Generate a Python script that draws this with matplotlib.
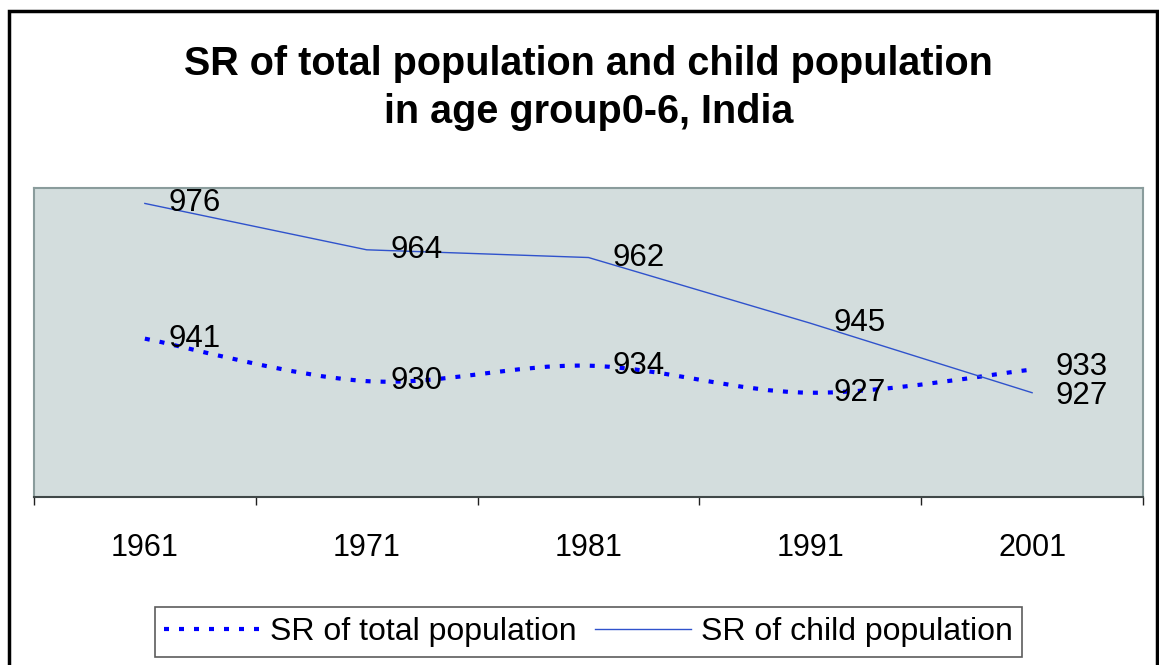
import numpy as np
import matplotlib.pyplot as plt
from matplotlib.path import Path
from matplotlib.patches import PathPatch, Rectangle
from matplotlib.lines import Line2D

plt.rcParams['font.family'] = ['Liberation Sans', 'DejaVu Sans']

years = ["1961", "1971", "1981", "1991", "2001"]
sr_total = [941, 930, 934, 927, 933]
sr_child = [976, 964, 962, 945, 927]

fig = plt.figure(figsize=(11.59, 6.65), dpi=100)
ax = fig.add_axes([0.0293, 0.2526, 0.9569, 0.4647])
ax.set_facecolor('#d3dddd')

x = np.arange(len(years))
dots = (0, (1.2, 2.4))


def smooth_path(xs, ys, t=0.5):
    # Catmull-Rom style bezier segments, like Excel's smoothed line
    pts = np.column_stack([xs, ys]).astype(float)
    verts = [pts[0]]
    codes = [Path.MOVETO]
    n = len(pts)
    for i in range(n - 1):
        p0 = pts[max(i - 1, 0)]
        p1 = pts[i]
        p2 = pts[i + 1]
        p3 = pts[min(i + 2, n - 1)]
        c1 = p1 + (p2 - p0) * t / 3
        c2 = p2 - (p3 - p1) * t / 3
        verts += [c1, c2, p2]
        codes += [Path.CURVE4] * 3
    return Path(verts, codes)


total_patch = PathPatch(smooth_path(x, sr_total), facecolor='none',
                        edgecolor='#0000ff', lw=3, linestyle=dots)
ax.add_patch(total_patch)
ax.plot(x, sr_child, color='#2f52cc', lw=1)

# last two labels sit very close together, nudge them apart a little
n = len(years)
for i, (xi, v) in enumerate(zip(x, sr_total)):
    dy = 2 if i == n - 1 else 0
    ax.annotate(str(v), (xi, v), xytext=(17, dy), textcoords='offset points',
                ha='left', va='center', fontsize=22.5)
for i, (xi, v) in enumerate(zip(x, sr_child)):
    dy = -2 if i == n - 1 else 0
    ax.annotate(str(v), (xi, v), xytext=(17, dy), textcoords='offset points',
                ha='left', va='center', fontsize=22.5)

ax.set_xlim(-0.5, 4.5)
ax.set_ylim(900, 980)
ax.set_yticks([])
ax.set_xticks(x)
ax.set_xticklabels(years, fontsize=22)
ax.set_xticks(np.arange(-0.5, 5, 1), minor=True)
ax.tick_params(axis='x', which='major', length=0, pad=26)
ax.tick_params(axis='x', which='minor', length=6, width=1, color='#202020')
for s in ['left', 'top', 'right']:
    ax.spines[s].set_color('#8a9c9c')
    ax.spines[s].set_linewidth(1.5)
ax.spines['bottom'].set_color('#404848')
ax.spines['bottom'].set_linewidth(1.5)

fig.text(0.508, 1 - 88 / 665,
         "SR of total population and child population\nin age group0-6, India",
         ha='center', va='center', fontsize=28.5, fontweight='bold',
         linespacing=1.36)

handles = [Line2D([], [], color='#0000ff', lw=3, linestyle=dots),
           Line2D([], [], color='#2f52cc', lw=1)]
leg = fig.legend(handles, ["SR of total population", "SR of child population"],
                 loc='center', bbox_to_anchor=(588.5 / 1159, 1 - 632 / 665),
                 ncol=2, fontsize=23, frameon=True, fancybox=False,
                 handlelength=3.0, handletextpad=0.3, columnspacing=0.6,
                 borderpad=0.3, borderaxespad=0)
leg.get_frame().set_edgecolor('#333333')
leg.get_frame().set_linewidth(1.2)

fig.patches.append(Rectangle((9 / 1159, -0.1), 1148 / 1159, 1.1 - 11 / 665,
                             transform=fig.transFigure, fill=False,
                             edgecolor='black', lw=2.5, clip_on=False))

fig.savefig('out.png', dpi=100)
